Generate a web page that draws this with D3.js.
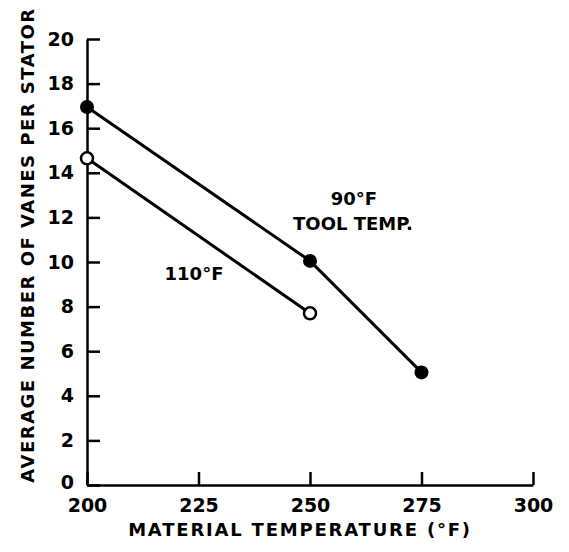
<!DOCTYPE html>
<html><head><meta charset="utf-8">
<script src="https://cdn.jsdelivr.net/npm/d3@7"></script>
<style>
body{margin:0;background:#fff;}
text{font-family:"DejaVu Sans",sans-serif;font-weight:bold;fill:#000;}
</style></head>
<body><svg id="c" width="569" height="552"></svg>
<script>
const xTicks = [200, 225, 250, 275, 300];
const yTicks = [0, 2, 4, 6, 8, 10, 12, 14, 16, 18, 20];
const tempTool90 = [200, 250, 275];
const vanesTool90 = [16.95, 10.05, 5.05];
const tempTool110 = [200, 250];
const vanesTool110 = [14.65, 7.7];

const svg = d3.select("#c");
const x = d3.scaleLinear().domain([200, 300]).range([87, 533]);
const y = d3.scaleLinear().domain([0, 20]).range([485, 39]);

const xa = svg.append("g").attr("transform", "translate(0,485)")
  .call(d3.axisBottom(x).tickValues(xTicks).tickSize(-13).tickSizeOuter(0).tickPadding(14).tickFormat(d3.format("d")));
const ya = svg.append("g").attr("transform", "translate(87,0)")
  .call(d3.axisLeft(y).tickValues(yTicks).tickSize(-13).tickSizeOuter(0).tickPadding(13).tickFormat(d3.format("d")));
[xa, ya].forEach(g => {
  g.select(".domain").attr("stroke", "#000").attr("stroke-width", 2.5);
  g.selectAll(".tick line").attr("stroke", "#000").attr("stroke-width", 2.5);
  g.selectAll(".tick text").style("font-size", "19px").style("font-family", "'DejaVu Sans',sans-serif").style("font-weight", "bold");
});
ya.selectAll(".tick text").filter(d => d === 0).attr("dy", "0.2em");

const line = d3.line().x(d => x(d[0])).y(d => y(d[1]));
const s90 = tempTool90.map((t, i) => [t, vanesTool90[i]]);
const s110 = tempTool110.map((t, i) => [t, vanesTool110[i]]);

svg.append("path").datum(s90).attr("d", line).attr("fill", "none").attr("stroke", "#000").attr("stroke-width", 3);
svg.append("path").datum(s110).attr("d", line).attr("fill", "none").attr("stroke", "#000").attr("stroke-width", 3);

svg.selectAll(".p90").data(s90).enter().append("circle")
  .attr("cx", d => x(d[0])).attr("cy", d => y(d[1])).attr("r", 7).attr("fill", "#000");
svg.selectAll(".p110").data(s110).enter().append("circle")
  .attr("cx", d => x(d[0])).attr("cy", d => y(d[1])).attr("r", 6).attr("fill", "#fff").attr("stroke", "#000").attr("stroke-width", 2.5);

svg.append("text").attr("x", 354).attr("y", 205).attr("text-anchor", "middle").style("font-size", "18px").text("90°F");
svg.append("text").attr("x", 353).attr("y", 230).attr("text-anchor", "middle").style("font-size", "18px").text("TOOL TEMP.");
svg.append("text").attr("x", 194).attr("y", 280).attr("text-anchor", "middle").style("font-size", "18px").text("110°F");

svg.append("text").attr("x", 300).attr("y", 536).attr("text-anchor", "middle").style("font-size", "18px").style("letter-spacing", "1.8px").text("MATERIAL TEMPERATURE (°F)");
svg.append("text").attr("transform", "translate(34,245) rotate(-90)").attr("text-anchor", "middle").style("font-size", "18px").style("letter-spacing", "1.5px").text("AVERAGE NUMBER OF VANES PER STATOR");
</script></body></html>
